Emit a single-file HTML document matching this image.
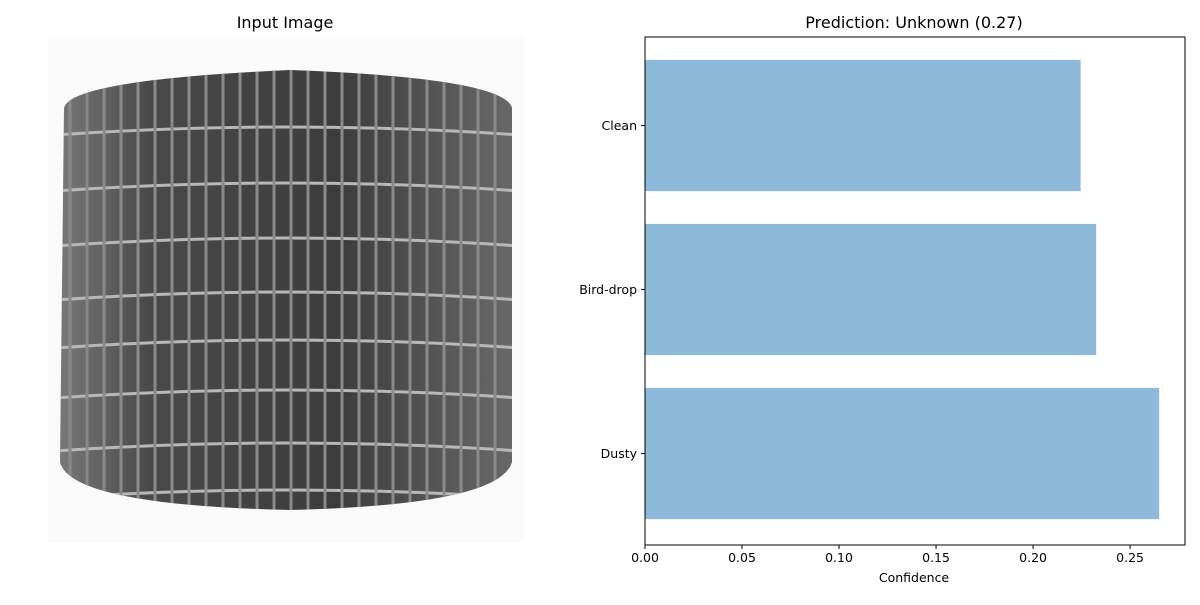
<!DOCTYPE html>
<html><head><meta charset="utf-8"><style>
body{margin:0;background:#fff;font-family:"Liberation Sans","DejaVu Sans",sans-serif;}
svg text{font-family:"DejaVu Sans","Liberation Sans",sans-serif;}
</style></head><body>
<svg width="1200" height="600" viewBox="0 0 1200 600">
<text x="285" y="28" font-size="16" text-anchor="middle">Input Image</text>
<g>
<rect x="48" y="37" width="476" height="505" fill="#fafafa"/>
<defs>
<clipPath id="cyl"><path d="M64,108 Q70,80 290,70 Q505,78 512,108 L512,462 Q500,505 290,510 Q70,505 60,462 Z"/></clipPath>
<linearGradient id="shade" x1="0" x2="1"><stop offset="0" stop-color="#7a7a7a"/><stop offset="0.2" stop-color="#4a4a4a"/><stop offset="0.6" stop-color="#3c3c3c"/><stop offset="1" stop-color="#6a6a6a"/></linearGradient>
</defs>
<g clip-path="url(#cyl)" id="mesh">
<rect x="55" y="65" width="465" height="450" fill="url(#shade)"/>
</g>
</g>
<text x="914" y="28" font-size="16" text-anchor="middle">Prediction: Unknown (0.27)</text>
<g id="chart"></g>
<text x="914" y="582" font-size="12.5" text-anchor="middle">Confidence</text>
</svg>
<script>
const categories=["Clean","Bird-drop","Dusty"];
const confidences=[0.2245,0.2325,0.265];
const tickValues=[0,0.05,0.10,0.15,0.20,0.25];
const tickLabels=["0.00","0.05","0.10","0.15","0.20","0.25"];
const NS="http://www.w3.org/2000/svg";
const L=645,R=1185,T=37,B=545,XMAX=0.2783;
const xs=v=>L+v/XMAX*(R-L);
const unit=164;
const yc=i=>(T+B)/2-1.5+(i-(categories.length-1)/2)*unit;
const g=document.getElementById('chart');
function mk(t,a){const e=document.createElementNS(NS,t);for(const k in a)e.setAttribute(k,a[k]);return e;}
categories.forEach((c,i)=>{
 const h=unit*0.8;
 const r=mk('rect',{x:L,y:yc(i)-h/2,width:xs(confidences[i])-L,height:h,fill:'#8db9db'});
 
 
 g.appendChild(r);
 const tk=mk('line',{x1:L-4,x2:L,y1:yc(i),y2:yc(i),stroke:'#000'});
 
 
 g.appendChild(tk);
 const tx=mk('text',{x:L-8,y:yc(i)+4.5,'font-size':12.5,'text-anchor':'end'});
 tx.textContent=c;
 
 
 g.appendChild(tx);
});
tickValues.forEach((v,i)=>{
 const x=xs(v);
 const tk=mk('line',{x1:x,x2:x,y1:B,y2:B+4,stroke:'#000'});
 
 
 g.appendChild(tk);
 const tx=mk('text',{x:x,y:B+17,'font-size':12.5,'text-anchor':'middle'});
 tx.textContent=tickLabels[i];
 
 
 g.appendChild(tx);
});
const fr=mk('rect',{x:L,y:T,width:R-L,height:B-T,fill:'none',stroke:'#000','stroke-width':1});


g.appendChild(fr);
const m=document.getElementById('mesh');
[127,183,238,292,340,390,443,490].forEach(y=>{
 m.appendChild(mk('path',{d:`M55,${y+8} Q290,${y-8} 520,${y+8}`,stroke:'#b8b8b8','stroke-width':3,fill:'none'}));
});
for(let x=70;x<512;x+=17){
 m.appendChild(mk('line',{x1:x,x2:x,y1:65,y2:515,stroke:'#8a8a8a','stroke-width':3}));
}
</script>
</body></html>
